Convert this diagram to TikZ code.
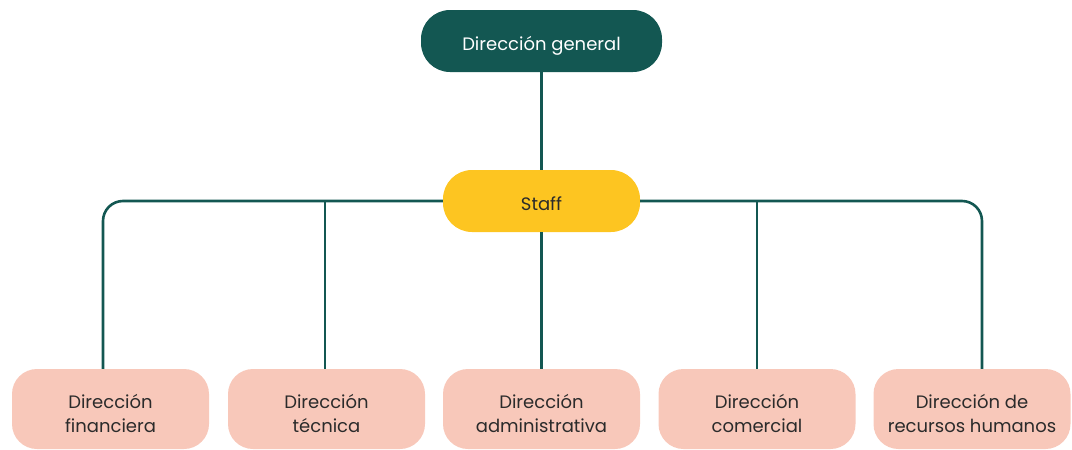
\documentclass[tikz,border=0pt]{standalone}
\usepackage{fontspec}
\setmainfont{Poppins}
\usepackage{tikz}
\usetikzlibrary{positioning, calc}
\definecolor{verdeosc}{HTML}{135752}
\definecolor{amarillo}{HTML}{FDC521}
\definecolor{rosa}{HTML}{F8C8BA}
\definecolor{texto}{HTML}{2B2B2B}
\tikzset{cabeza/.style={rectangle, rounded corners=29pt, fill=verdeosc, text=white, minimum width=241pt, minimum height=62pt, text height=18pt, text depth=0pt, font=\fontsize{18}{21}\selectfont},
         apoyo/.style={rectangle, rounded corners=29pt, fill=amarillo, text=texto, minimum width=197pt, minimum height=62pt, text height=18pt, text depth=0pt, font=\fontsize{18}{21}\selectfont},
         depto/.style={rectangle, rounded corners=25pt, fill=rosa, text=texto, minimum width=197pt, minimum height=80pt, align=center, text height=46pt, text depth=0pt, font=\fontsize{18}{24}\selectfont},
         linea/.style={draw=verdeosc, line width=2.6pt}}

\begin{document}
\begin{tikzpicture}[x=1pt, y=-1pt]
                 \useasboundingbox (0,0) rectangle (1072,450);

                 \node[cabeza] (dirgen) at (541.5,41) {Dirección general};
                 \node[apoyo] (staff) at (541.5,201) {Staff};

                 \node[depto] (fin) at (110.5,409) {Dirección\\financiera};
                 \node[depto] (tec) at (326.5,409) {Dirección\\técnica};
                 \node[depto] (adm) at (541.5,409) {Dirección\\administrativa};
                 \node[depto] (com) at (757,409) {Dirección\\comercial};
                 \node[depto] (rrhh) at (972,409) {Dirección de\\recursos humanos};

%                 extremos de la barra
                 \coordinate (izq) at (103,201);
                 \coordinate (der) at (982,201);

                 \draw[linea] (dirgen.south) -- (staff.north);
                 \draw[linea] (staff.south) -- (adm.north);
                 \draw[linea, rounded corners=20pt] (fin.north -| izq) -- (izq) -- (staff.west);
                 \draw[linea, rounded corners=20pt] (staff.east) -- (der) -- (rrhh.north -| der);
                 \draw[linea] (tec.north -| 325,0) -- (staff.west -| 325,0);
                 \draw[linea] (com.north) -- (com.north |- staff.east);
\end{tikzpicture}
\end{document}
